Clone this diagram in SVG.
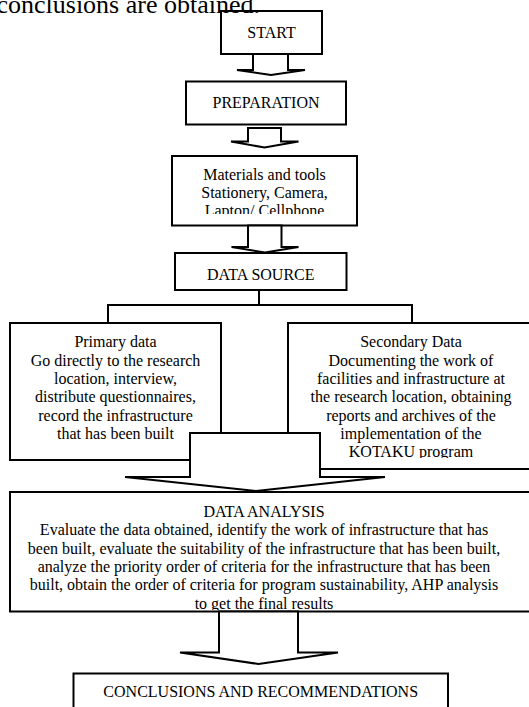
<svg xmlns="http://www.w3.org/2000/svg" width="529" height="707" viewBox="0 0 529 707">
<style>
.box{fill:#fff;stroke:#000;stroke-width:2}
.arr{fill:#fff;stroke:#000;stroke-width:2;stroke-linejoin:miter}
.ln{fill:none;stroke:#000;stroke-width:2}
text{font-family:"Liberation Serif","Times New Roman",serif;font-size:16px;fill:#000;text-anchor:middle}
.big{font-size:26px;text-anchor:end}
</style>
<defs>
<clipPath id="cMat"><rect x="172" y="156" width="185" height="58"/></clipPath>
<clipPath id="cSec"><rect x="288" y="323" width="250" height="135"/></clipPath>
<clipPath id="cDA"><rect x="10" y="492" width="530" height="118"/></clipPath>
</defs>
<rect width="529" height="707" fill="#fff"/>

<g id="start">
<rect class="box" x="221" y="11" width="101" height="43"/>
<text x="271.5" y="38">START</text>
</g>
<g id="preparation">
<rect class="box" x="186" y="81.5" width="160" height="43"/>
<text x="266" y="108">PREPARATION</text>
</g>
<g id="materials">
<rect class="box" x="172" y="156" width="185" height="69.5"/>
<g clip-path="url(#cMat)">
<text x="264.5" y="179.5">Materials and tools</text>
<text x="264.5" y="197.8">Stationery, Camera,</text>
<text x="264.5" y="216.1">Lapton/ Cellphone</text>
</g>
</g>
<g id="data-source">
<rect class="box" x="175" y="253" width="171.5" height="37"/>
<text x="260.7" y="279.5">DATA SOURCE</text>
</g>
<g id="primary">
<rect class="box" x="10" y="323" width="211" height="137"/>
<text x="115.5" y="347.3">Primary data</text>
<text x="115.5" y="365.6">Go directly to the research</text>
<text x="115.5" y="383.9">location, interview,</text>
<text x="115.5" y="402.2">distribute questionnaires,</text>
<text x="115.5" y="420.5">record the infrastructure</text>
<text x="115.5" y="438.8">that has been built</text>
</g>
<g id="secondary">
<rect class="box" x="288" y="323" width="250" height="146"/>
<g clip-path="url(#cSec)">
<text x="411" y="347.3">Secondary Data</text>
<text x="411" y="365.6">Documenting the work of</text>
<text x="411" y="383.9">facilities and infrastructure at</text>
<text x="411" y="402.2">the research location, obtaining</text>
<text x="411" y="420.5">reports and archives of the</text>
<text x="411" y="438.8">implementation of the</text>
<text x="411" y="457.1">KOTAKU program</text>
</g>
</g>
<g id="data-analysis">
<rect class="box" x="10" y="492" width="530" height="119.5"/>
<g clip-path="url(#cDA)">
<text x="264" y="517">DATA ANALYSIS</text>
<text x="264" y="535.3">Evaluate the data obtained, identify the work of infrastructure that has</text>
<text x="264" y="553.6">been built, evaluate the suitability of the infrastructure that has been built,</text>
<text x="264" y="571.9">analyze the priority order of criteria for the infrastructure that has been</text>
<text x="264" y="590.2">built, obtain the order of criteria for program sustainability, AHP analysis</text>
<text x="264" y="608.5">to get the final results</text>
</g>
</g>
<g id="conclusions">
<rect class="box" x="73.5" y="673.5" width="374.5" height="50"/>
<text x="260.7" y="697">CONCLUSIONS AND RECOMMENDATIONS</text>
</g>

<g id="connectors">
<polygon class="arr" points="253,54 288,54 288,70 305,70 271,75 237,70 253,70"/>
<polygon class="arr" points="248,128 281,128 281,141.5 298.5,141.5 264.5,147.5 231,141.5 248,141.5"/>
<polygon class="arr" points="248,225.5 281.5,225.5 281.5,247 298.5,247 265,252.5 231.5,247 248,247"/>
<path class="ln" d="M259,290 V305 M108,323 V305 H412 V323"/>
<polygon class="arr" points="190,433 320,433 320,477 385,477 256,491 125,477 190,477"/>
<polygon class="arr" points="219,611.5 298,611.5 298,652.5 338,652.5 258.5,664 180,652.5 219,652.5"/>
</g>

<text class="big" x="260" y="12.5">conclusions are obtained.</text>
</svg>
